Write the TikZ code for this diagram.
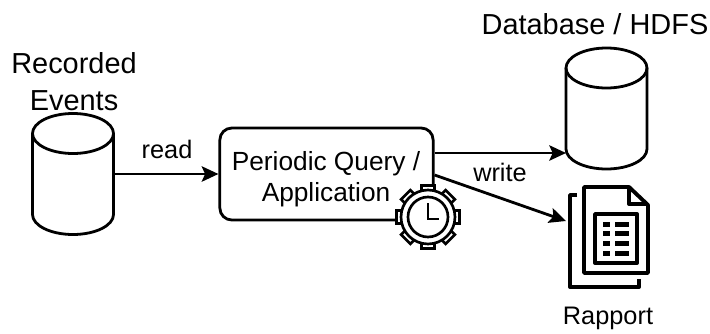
\documentclass[tikz,border=0pt]{standalone}
\usepackage{fontspec}
\setmainfont{Liberation Sans}
\usetikzlibrary{arrows.meta}

\tikzset{
  dbcyl/.style={minimum width=60.75pt, minimum height=90.75pt, inner sep=0pt, outer sep=0pt},
  conn/.style={line width=2.1pt, -{Stealth[length=12.5pt,width=11.5pt,inset=2.5pt]}},
  gearline/.style={line width=2pt},
  docline/.style={line width=2.9pt, line join=round},
  title/.style={font=\fontsize{21.7}{28}\selectfont, align=center},
  small/.style={font=\fontsize{19}{23}\selectfont, align=center}
}

\begin{document}
\begin{tikzpicture}[x=0.75pt,y=-0.75pt]
      \useasboundingbox (0,0) rectangle (710,333);

      % the two stores
      \node[dbcyl] (events) at (73,174) {};
      \node[dbcyl] (store) at (606.5,108.5) {};
      \foreach \c in {events,store} {
        \draw[line width=2.1pt, line join=round] ([yshift=-15pt]\c.north west) arc[start angle=180,end angle=0,x radius=30.375pt,y radius=15pt] -- ([yshift=15pt]\c.south east) arc[start angle=0,end angle=-180,x radius=30.375pt,y radius=15pt] -- cycle;
        \draw[line width=2.1pt] ([yshift=-15pt]\c.north west) arc[start angle=180,end angle=360,x radius=30.375pt,y radius=15pt];
      }

      % write store titles
      \node[title] (eventslabel) at (74,81.5) {Recorded\\Events};
      \node[title] (storelabel) at (595,24) {Database / HDFS};

      % the query box
      \node[draw, line width=2.1pt, rounded corners=9pt, minimum width=160pt, minimum height=69pt] (query) at (326.5,174) {};
      \node[small, font=\fontsize{19.7}{23.5}\selectfont] (querylabel) at (326,179.5) {Periodic Query /\\Application};

      % free ends on the box and the report
      \coordinate (out1) at (query.east |- 0,153);
      \coordinate (out2) at (query.east |- 0,175);
      \coordinate (in1) at (store.west |- 0,153);
      \coordinate (in2) at (566,221);

      % connections
      \draw[conn] (events.east) -- (query.west);
      \draw[conn] (out1) -- (in1);
      \draw[conn] (out2) -- (in2);

      % write arrow labels
      \node[small] (readlabel) at (167,149) {read};
      \node[small] (writelabel) at (500,172) {write};
      \node[small] (rapportlabel) at (608,318) {Rapport};

      % gear with clock
      \coordinate (gear) at (428,217);
      \foreach \a in {0,45,...,315} {
        \draw[gearline, fill=white, rotate around={\a:(gear)}] (421.5,185.5) rectangle (434.5,196);
      }
      \draw[gearline, fill=white] (gear) circle (27);
      \draw[gearline] (gear) circle (20);
      \draw[gearline] (428,203) -- (428,219) -- (439,219);

      % report behind
      \draw[docline] (577,195) -- (570,195) -- (570,287) -- (639,287) -- (639,279);

      % report front
      \draw[docline] (584,187) -- (629,187) -- (648,205) -- (648,273) -- (584,273) -- cycle;
      \draw[docline] (629,187) -- (629,204) -- (648,204);

      % table on the report
      \draw[docline] (595,214) rectangle (637,263);
      \foreach \y in {224,233,243,253} {
        \fill (603,\y-2.5) rectangle (610,\y+2.5);
        \fill (615,\y-2.5) rectangle (629,\y+2.5);
      }
\end{tikzpicture}
\end{document}
